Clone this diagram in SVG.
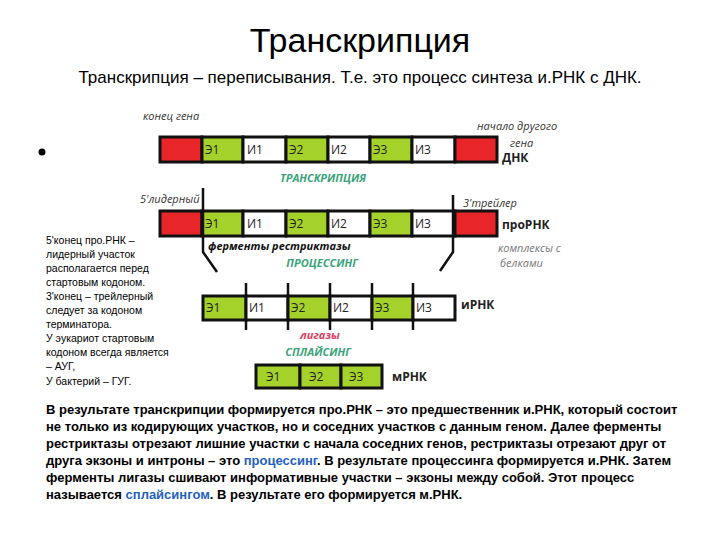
<svg xmlns="http://www.w3.org/2000/svg" width="720" height="540" viewBox="0 0 720 540">
<style>
.s{stroke:#111;stroke-width:3}
.r{fill:#e8262a}.g{fill:#a4d22a}.w{fill:#fff}
.lb{font-family:"Open Sans",sans-serif;font-size:12px;fill:#222}
.it{font-family:"Open Sans",sans-serif;font-style:italic;font-size:11px;fill:#333}
.bd{font-family:"Open Sans",sans-serif;font-weight:bold;font-size:12px;fill:#222}
.gr{font-family:"Open Sans",sans-serif;font-weight:bold;font-style:italic;font-size:11px;fill:#3aa37a}
.t{font-family:"Liberation Sans",Arial,sans-serif;fill:#000}
.p{font-family:"Liberation Sans",Arial,sans-serif;font-size:13px;font-weight:bold;fill:#000}
.bl{fill:#1f5fc0}
.ln{stroke:#111;stroke-width:2.5;fill:none}
</style>
<rect width="720" height="540" fill="#fff"/>
<text class="t" x="360" y="52" font-size="34" text-anchor="middle">Транскрипция</text>
<text class="t" x="360" y="83" font-size="17" text-anchor="middle">Транскрипция – переписывания. Т.е. это процесс синтеза и.РНК с ДНК.</text>
<circle cx="42" cy="152" r="3.5" fill="#000"/>
<g id="dnk">
<rect class="s r" x="160" y="137" width="42" height="25"/><rect class="s g" x="202" y="137" width="41" height="25"/><rect class="s w" x="243" y="137" width="43" height="25"/><rect class="s g" x="286" y="137" width="42" height="25"/><rect class="s w" x="328" y="137" width="42" height="25"/><rect class="s g" x="370" y="137" width="42" height="25"/><rect class="s w" x="412" y="137" width="43" height="25"/><rect class="s r" x="455" y="137" width="42" height="25"/>
<text class="lb" x="205" y="154">Э1</text><text class="lb" x="247" y="154">И1</text><text class="lb" x="289" y="154">Э2</text><text class="lb" x="331" y="154">И2</text><text class="lb" x="373" y="154">Э3</text><text class="lb" x="415" y="154">И3</text>
<text class="bd" x="502" y="162">ДНК</text>
<text class="it" x="143" y="120">конец гена</text>
<text class="it" x="477" y="130">начало другого</text>
<text class="it" x="510" y="147">гена</text>
</g>
<text class="gr" x="323" y="182" text-anchor="middle">ТРАНСКРИПЦИЯ</text>
<g id="prornk">
<rect class="s r" x="160" y="211" width="42" height="25"/><rect class="s g" x="202" y="211" width="41" height="25"/><rect class="s w" x="243" y="211" width="43" height="25"/><rect class="s g" x="286" y="211" width="42" height="25"/><rect class="s w" x="328" y="211" width="42" height="25"/><rect class="s g" x="370" y="211" width="42" height="25"/><rect class="s w" x="412" y="211" width="43" height="25"/><rect class="s r" x="455" y="211" width="42" height="25"/>
<text class="lb" x="205" y="228">Э1</text><text class="lb" x="247" y="228">И1</text><text class="lb" x="289" y="228">Э2</text><text class="lb" x="331" y="228">И2</text><text class="lb" x="373" y="228">Э3</text><text class="lb" x="415" y="228">И3</text>
<text class="bd" x="502" y="229">проРНК</text>
<text class="it" x="140" y="203" font-size="10">5'лидерный</text>
<text class="it" x="463" y="207" font-size="10">3'трейлер</text>
<text class="it" x="498" y="252" style="fill:#777">комплексы с</text>
<text class="it" x="500" y="267" style="fill:#777">белками</text>
</g>
<g id="connectors">
<path class="ln" d="M203 188V252L217 272"/>
<path class="ln" d="M453 195V252L440 271"/>
<path class="ln" d="M246 283V330M288 283V330M330 283V330M372 283V330M413 283V330"/>
</g>
<text class="it" x="208" y="250" font-weight="bold" style="fill:#111">ферменты рестриктазы</text>
<text class="gr" x="322" y="267" text-anchor="middle">ПРОЦЕССИНГ</text>
<g id="irnk">
<rect class="s g" x="203" y="296" width="43" height="24"/><rect class="s w" x="246" y="296" width="42" height="24"/><rect class="s g" x="288" y="296" width="42" height="24"/><rect class="s w" x="330" y="296" width="42" height="24"/><rect class="s g" x="372" y="296" width="41" height="24"/><rect class="s w" x="413" y="296" width="42" height="24"/>
<text class="lb" x="206" y="312">Э1</text><text class="lb" x="249" y="312">И1</text><text class="lb" x="291" y="312">Э2</text><text class="lb" x="333" y="312">И2</text><text class="lb" x="375" y="312">Э3</text><text class="lb" x="416" y="312">И3</text>
<text class="bd" x="461" y="309">иРНК</text>
</g>
<text class="gr" x="320" y="339" text-anchor="middle" style="fill:#d94060">лигазы</text>
<text class="gr" x="318" y="356" text-anchor="middle">СПЛАЙСИНГ</text>
<g id="mrnk">
<rect class="s g" x="256" y="365" width="44" height="23"/><rect class="s g" x="300" y="365" width="41" height="23"/><rect class="s g" x="341" y="365" width="41" height="23"/>
<text class="lb" x="266" y="381">Э1</text><text class="lb" x="309" y="381">Э2</text><text class="lb" x="349" y="381">Э3</text>
<text class="bd" x="392" y="381">мРНК</text>
</g>
<g class="t" font-size="10.5">
<text x="46" y="244">5'конец про.РНК –</text>
<text x="46" y="258">лидерный участок</text>
<text x="46" y="272">располагается перед</text>
<text x="46" y="286">стартовым кодоном.</text>
<text x="46" y="300">3'конец – трейлерный</text>
<text x="46" y="314">следует за кодоном</text>
<text x="46" y="328">терминатора.</text>
<text x="46" y="342">У эукариот стартовым</text>
<text x="46" y="356">кодоном всегда является</text>
<text x="46" y="370">– АУГ,</text>
<text x="46" y="385">У бактерий – ГУГ.</text>
</g>
<g class="p">
<text x="46" y="414">В результате транскрипции формируется про.РНК – это предшественник и.РНК, который состоит</text>
<text x="46" y="431">не только из кодирующих участков, но и соседних участков с данным геном. Далее  ферменты</text>
<text x="46" y="448">рестриктазы отрезают лишние участки с начала соседних генов, рестриктазы отрезают друг от</text>
<text x="46" y="465">друга экзоны и интроны – это <tspan class="bl">процессинг</tspan>. В результате процессинга формируется и.РНК. Затем</text>
<text x="46" y="482">ферменты лигазы сшивают информативные участки – экзоны между собой. Этот процесс</text>
<text x="46" y="499">называется <tspan class="bl">сплайсингом</tspan>. В результате его формируется м.РНК.</text>
</g>
</svg>
